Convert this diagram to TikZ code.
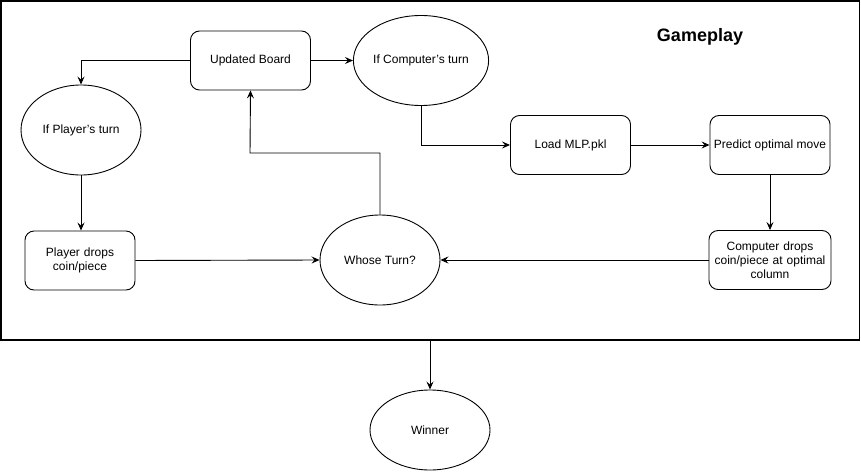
\documentclass[tikz,border=0pt]{standalone}
\usepackage{fontspec}
\setmainfont{Liberation Sans}
\usetikzlibrary{shapes.geometric,arrows.meta}
\newcommand{\apos}{\symbol{39}}
\begin{document}
\begin{tikzpicture}[x=1pt,y=-1pt,
  every node/.style={font=\fontsize{12}{14}\selectfont},
  box/.style={draw,line width=0.9pt,rounded corners=9pt,fill=white,
    minimum width=120pt,minimum height=59pt,inner sep=2pt,align=center},
  oval/.style={draw,line width=0.9pt,ellipse,fill=white,
    minimum width=120pt,minimum height=90pt,inner sep=0pt,align=center},
  flow/.style={draw,line width=0.9pt,-{Stealth[length=8pt,width=7pt,inset=3pt]}}]
  \useasboundingbox (0,0) rectangle (861,471);
  % container
  \draw[line width=1.2pt] (1,1) rectangle (859.5,340);
  \node[font=\bfseries\fontsize{18}{20}\selectfont] (title) at (700,37) {Gameplay};
  % nodes
  \node[box] (ub) at (250.5,60.5) {Updated Board};
  \node[oval] (ic) at (421,60.5) {If Computer\apos s turn};
  \node[oval] (ip) at (81,130) {If Player\apos s turn};
  \node[box] (load) at (570.5,145) {Load MLP.pkl};
  \node[box,inner sep=0pt] (pred) at (770,145) {Predict optimal move};
  \node[box,minimum width=110pt,text width=104pt] (pd) at (80,260.5) {Player drops\\coin/piece};
  \node[oval] (wt) at (380,260) {Whose Turn?};
  \node[box,text width=118pt] (cd) at (770,260) {Computer drops\\coin/piece at optimal\\column};
  \node[oval,minimum height=80pt] (win) at (430,430) {Winner};
  \coordinate (loopturn) at (250,153);
  \coordinate (framebot) at (430,340);
  % connectors
  \draw[flow] (ub.west) -| (ip.north);
  \draw[flow] (ub.east) -- (ic.west);
  \draw[flow] (ic.south) |- (load.west);
  \draw[flow] (load.east) -- (pred.west);
  \draw[flow] (pred.south) -- (cd.north);
  \draw[flow] (cd.west) -- (wt.east);
  \draw[flow] (ip.south) -- (ip.south |- pd.north);
  \draw[flow] (pd.east) -- (wt.west);
  \draw[flow] (wt.north) |- (loopturn) -- (ub.south);
  \draw[flow] (framebot) -- (win.north);
\end{tikzpicture}
\end{document}
